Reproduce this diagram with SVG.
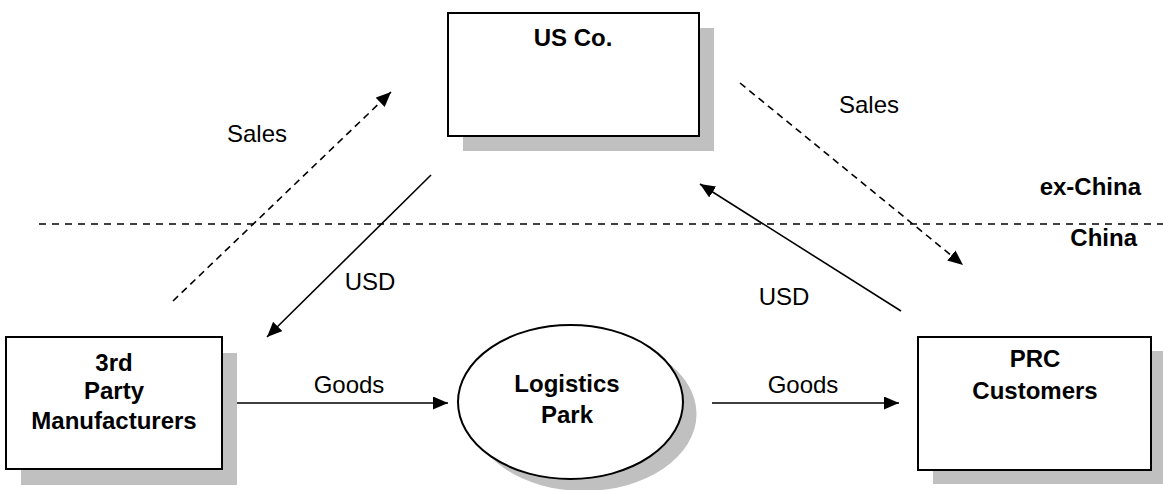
<svg xmlns="http://www.w3.org/2000/svg" width="1163" height="490" viewBox="0 0 1163 490">
  <style>
    .box { fill: #ffffff; stroke: #000000; stroke-width: 2; }
    .shadow { fill: #c0c0c0; stroke: none; }
    .title { font-family: "Liberation Sans", Arial, sans-serif; font-size: 24px; font-weight: bold; fill: #000000; text-anchor: middle; }
    .label { font-family: "Liberation Sans", Arial, sans-serif; font-size: 24px; fill: #000000; text-anchor: middle; }
    .zone { font-family: "Liberation Sans", Arial, sans-serif; font-size: 24px; font-weight: bold; fill: #000000; text-anchor: end; }
    .flow { stroke: #000000; stroke-width: 1.6; fill: none; marker-end: url(#arrow); }
    .dashed { stroke-dasharray: 7 5; }
    .border { stroke: #000000; stroke-width: 1.6; stroke-dasharray: 7 6; fill: none; }
  </style>
  <defs>
    <marker id="arrow" markerUnits="userSpaceOnUse" markerWidth="16" markerHeight="14" refX="15" refY="6.5" orient="auto">
      <path d="M0,0 L15,6.5 L0,13 Z" fill="#000000"/>
    </marker>
  </defs>

  <rect width="1163" height="490" fill="#ffffff"/>

  <!-- boundary between ex-China and China -->
  <g id="boundary">
    <line class="border" x1="39" y1="224" x2="1163" y2="224"/>
    <text class="zone" x="1141" y="195">ex-China</text>
    <text class="zone" x="1137" y="246">China</text>
  </g>

  <g id="us-co">
    <rect class="shadow" x="463" y="28" width="251" height="123"/>
    <rect class="box" x="448" y="13" width="251" height="123"/>
    <text class="title" x="573" y="46">US Co.</text>
  </g>

  <g id="manufacturers">
    <rect class="shadow" x="21" y="353" width="216" height="132"/>
    <rect class="box" x="6" y="337" width="216" height="132"/>
    <text class="title" x="114" y="371">3rd</text>
    <text class="title" x="114" y="399">Party</text>
    <text class="title" x="114" y="429">Manufacturers</text>
  </g>

  <g id="logistics-park">
    <ellipse class="shadow" cx="584" cy="414" rx="112.5" ry="77"/>
    <ellipse class="box" cx="570.5" cy="402" rx="112.5" ry="77"/>
    <text class="title" x="567" y="392">Logistics</text>
    <text class="title" x="567" y="423">Park</text>
  </g>

  <g id="prc-customers">
    <rect class="shadow" x="933" y="351" width="233" height="133"/>
    <rect class="box" x="918" y="337" width="233" height="133"/>
    <text class="title" x="1035" y="367">PRC</text>
    <text class="title" x="1035" y="399">Customers</text>
  </g>

  <g id="connectors">
    <line class="flow dashed" x1="173" y1="301" x2="391" y2="92"/>
    <line class="flow" x1="431" y1="175" x2="267" y2="337"/>
    <line class="flow dashed" x1="740" y1="83" x2="963" y2="265"/>
    <line class="flow" x1="901" y1="311" x2="700" y2="184"/>
    <line class="flow" x1="237" y1="403" x2="448" y2="403"/>
    <line class="flow" x1="712" y1="403" x2="899" y2="403"/>
    <text class="label" x="257" y="142">Sales</text>
    <text class="label" x="370" y="290">USD</text>
    <text class="label" x="869" y="113">Sales</text>
    <text class="label" x="784" y="305">USD</text>
    <text class="label" x="349" y="393">Goods</text>
    <text class="label" x="803" y="393">Goods</text>
  </g>
</svg>
